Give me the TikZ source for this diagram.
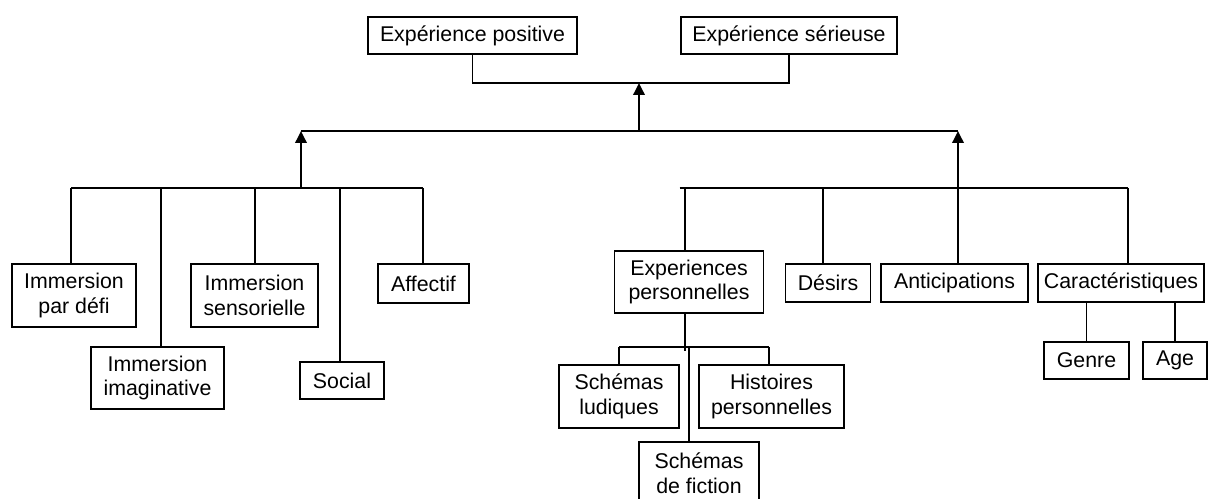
\documentclass[tikz,border=0pt]{standalone}
\usepackage{fontspec}
\setmainfont{Liberation Sans}
\usetikzlibrary{arrows.meta}

\begin{document}
\begin{tikzpicture}[x=0.75pt, y=-0.75pt,
  box/.style 2 args={draw, line width=1.1pt, align=center, inner sep=0pt,
    minimum width=#1*0.75pt, minimum height=#2*0.75pt,
    font=\fontsize{16}{18.5}\selectfont},
  link/.style={line width=1.1pt},
  uparrow/.style={line width=1.8pt, -{Triangle[width=8.5pt,length=9pt]}}]
  \useasboundingbox (0,0) rectangle (1208,499);

  % top level
  \node[box={209}{37}] (positive) at (472.5,35.5) {Expérience positive};
  \node[box={216}{37}] (serieuse) at (789,35.5) {Expérience sérieuse};

  % left branch
  \node[box={124}{63}] (defi) at (74,295.5) {Immersion\\par défi};
  \node[box={133}{62}] (imag) at (157.5,378) {Immersion\\imaginative};
  \node[box={127}{63}] (sens) at (254.5,295.5) {Immersion\\sensorielle};
  \node[box={84}{37}] (social) at (342,380.5) {Social};
  \node[box={91}{39}] (affectif) at (423.5,283.5) {Affectif};

  % right branch
  \node[box={149}{62}] (exppers) at (689,282) {Experiences\\personnelles};
  \node[box={85}{38}] (desirs) at (828,283) {Désirs};
  \node[box={147}{38}] (antic) at (954.5,283) {Anticipations};
  \node[box={166}{38}] (caract) at (1121,283) {Caractéristiques};
  \node[box={85}{37}] (genre) at (1086.5,360.5) {Genre};
  \node[box={64}{37}] (age) at (1175,360.5) {Age};
  \node[box={120}{63}] (ludiques) at (619,396.5) {Schémas\\ludiques};
  \node[box={145}{63}] (histoires) at (771.5,396.5) {Histoires\\personnelles};
  \node[box={120}{63}] (fiction) at (699,473.5) {Schémas\\de fiction};

  % joins and arrows
  \coordinate (topjoin) at (639,83);
  \coordinate (midjoin) at (639,131);
  \coordinate (midleft) at (301,131);
  \coordinate (midright) at (958,131);
  \coordinate (leftjoin) at (301,188);
  \coordinate (rightjoin) at (958,188);
  \draw[link] (positive.south) -- (positive.south |- topjoin)
    -- (serieuse.south |- topjoin) -- (serieuse.south);
  \draw[link] (midleft) -- (midright);
  \draw[uparrow] (midjoin) -- (topjoin);
  \draw[uparrow] (leftjoin) -- (midleft);
  \draw[uparrow] (rightjoin) -- (midright);

  \foreach \n/\x in {defi/71, imag/161, sens/255, social/340, affectif/423}
    \coordinate (bar-\n) at (\x,188);
  \foreach \n/\x in {exppers/685, desirs/823, antic/958, caract/1128}
    \coordinate (bar-\n) at (\x,188);
  \draw[link] (bar-defi) -- (bar-affectif);
  \draw[link] ([xshift=-4pt]bar-exppers) -- (bar-caract);
  \foreach \n in {defi, imag, sens, social, affectif, exppers, desirs, antic, caract}
    \draw[link] (bar-\n) -- (\n.north -| bar-\n);

  % personal experiences
  \foreach \n/\x in {ludiques/619, fiction/689, histoires/769}
    \coordinate (sub-\n) at (\x,347);
  \draw[link] (bar-exppers |- exppers.south) -- ([yshift=-3pt]bar-exppers |- sub-ludiques);
  \draw[link] (sub-ludiques) -- (sub-histoires);
  \foreach \n in {ludiques, fiction, histoires}
    \draw[link] (sub-\n) -- (\n.north -| sub-\n);

  % characteristics
  \draw[link] (genre.north) -- (genre.north |- caract.south);
  \draw[link] (age.north) -- (age.north |- caract.south);
\end{tikzpicture}
\end{document}
